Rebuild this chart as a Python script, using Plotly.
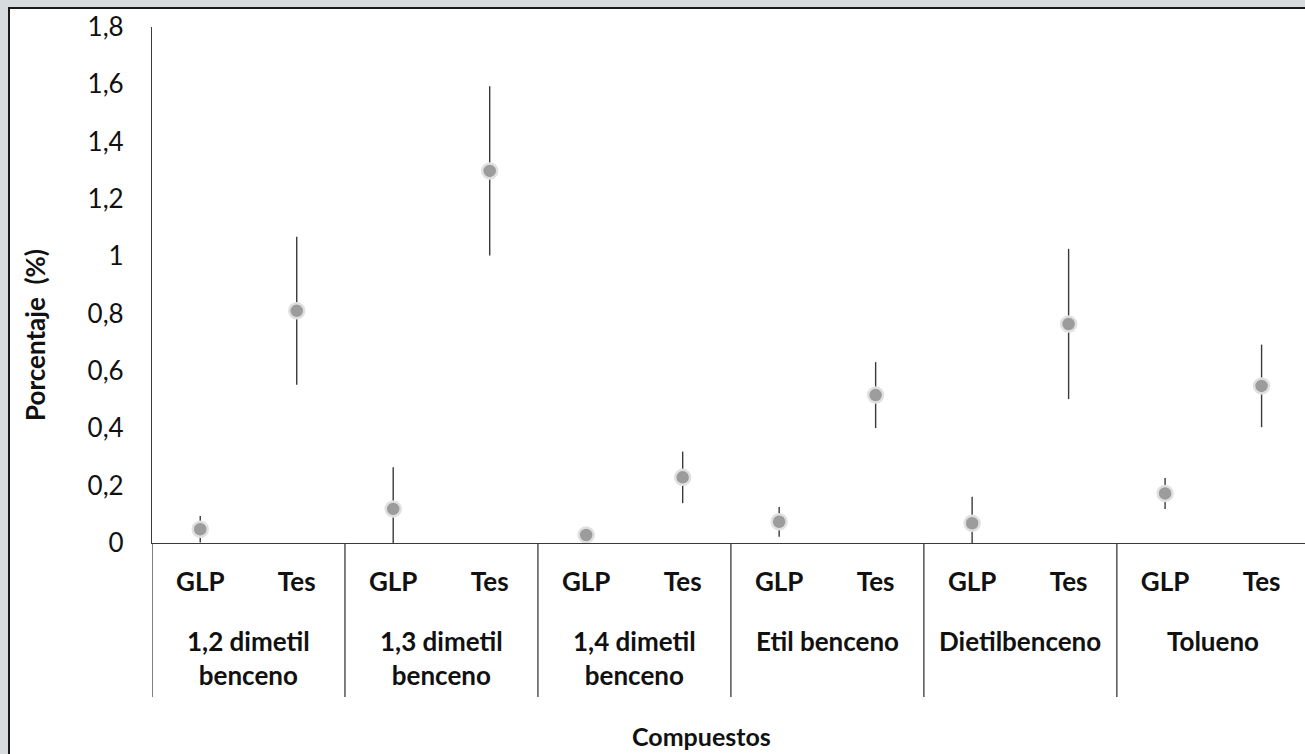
import plotly.graph_objects as go

# ---- data ----
compounds = ["1,2 dimetil<br>benceno", "1,3 dimetil<br>benceno", "1,4 dimetil<br>benceno",
             "Etil benceno", "Dietilbenceno", "Tolueno"]
subgroups = ["GLP", "Tes"]
glp_values = [0.048, 0.119, 0.028, 0.074, 0.069, 0.173]
glp_errors = [0.046, 0.145, 0.020, 0.052, 0.092, 0.054]
tes_values = [0.810, 1.298, 0.229, 0.516, 0.764, 0.548]
tes_errors = [0.258, 0.295, 0.090, 0.115, 0.262, 0.144]
y_ticks = [0, 0.2, 0.4, 0.6, 0.8, 1.0, 1.2, 1.4, 1.6, 1.8]

# ---- layout geometry (pixels) ----
W, H = 1305, 754
L, R, T, B = 152, 0, 27, 211
PW, PH = W - L - R, H - T - B
def px(x):  # pixel x -> paper
    return (x - L) / PW
def py(y):  # pixel y -> paper
    return (H - B - y) / PH

FONT = "Lato, Carlito, Calibri, 'Open Sans', sans-serif"

ns = len(subgroups)
x_glp = [i * ns + 0 for i in range(len(compounds))]
x_tes = [i * ns + 1 for i in range(len(compounds))]
tick_vals = [i * ns + j for i in range(len(compounds)) for j in range(ns)]
tick_text = [subgroups[j] for i in range(len(compounds)) for j in range(ns)]

marker = dict(size=15, color="#9c9c9c", line=dict(color="#e0e0e0", width=2.5))
err_style = dict(type="data", symmetric=True, color="#3a3a3a", thickness=1.4, width=0)

fig = go.Figure()
fig.add_trace(go.Scatter(x=x_glp, y=glp_values, mode="markers", name="GLP",
                         marker=marker, error_y=dict(array=glp_errors, **err_style),
                         cliponaxis=False))
fig.add_trace(go.Scatter(x=x_tes, y=tes_values, mode="markers", name="Tes",
                         marker=marker, error_y=dict(array=tes_errors, **err_style),
                         cliponaxis=False))

shapes = []
# white panel with black border
shapes.append(dict(type="rect", xref="paper", yref="paper", layer="below",
                   x0=px(9), x1=px(W + 20), y0=py(H + 20), y1=py(8),
                   fillcolor="white", line=dict(color="#1a1a1a", width=2)))
# group dividers in the category label area
for k in range(len(compounds) + 1):
    xd = k * ns - 0.5
    shapes.append(dict(type="line", xref="x", yref="paper",
                       x0=xd, x1=xd, y0=0, y1=py(697),
                       line=dict(color="#3a3a3a", width=1.3)))

annotations = []
for i, name in enumerate(compounds):
    annotations.append(dict(x=i * ns + (ns - 1) / 2, y=py(623), xref="x", yref="paper",
                            text="<b>%s</b>" % name, showarrow=False,
                            xanchor="center", yanchor="top",
                            font=dict(family=FONT, size=26, color="#111")))
annotations.append(dict(x=px(701), y=py(752), xref="paper", yref="paper",
                        text="<b>Compuestos</b>", showarrow=False,
                        xanchor="center", yanchor="bottom", borderpad=0,
                        font=dict(family=FONT, size=25, color="#111")))
annotations.append(dict(x=px(35), y=py(335), xref="paper", yref="paper",
                        text="<b>Porcentaje  (%)</b>", showarrow=False, textangle=-90,
                        xanchor="center", yanchor="middle",
                        font=dict(family=FONT, size=26, color="#111")))

fig.update_layout(
    width=W, height=H, autosize=False,
    margin=dict(l=L, r=R, t=T, b=B, pad=0),
    paper_bgcolor="#d7dbde", plot_bgcolor="white",
    separators=",.",
    showlegend=False,
    shapes=shapes, annotations=annotations,
    xaxis=dict(range=[-0.5, 11.45], tickvals=tick_vals, ticktext=tick_text,
               showgrid=False, zeroline=False, showline=True,
               linecolor="#3a3a3a", linewidth=1.3, ticks="",
               ticklabelstandoff=16,
               tickfont=dict(family=FONT, size=26, color="#111", weight="bold")),
    yaxis=dict(range=[0, 1.8], tickvals=y_ticks, showgrid=False, zeroline=False,
               showline=True, linecolor="#3a3a3a", linewidth=1.3, ticks="",
               ticklabelstandoff=22,
               tickfont=dict(family=FONT, size=26, color="#111")),
)

fig.write_html("out.html")
